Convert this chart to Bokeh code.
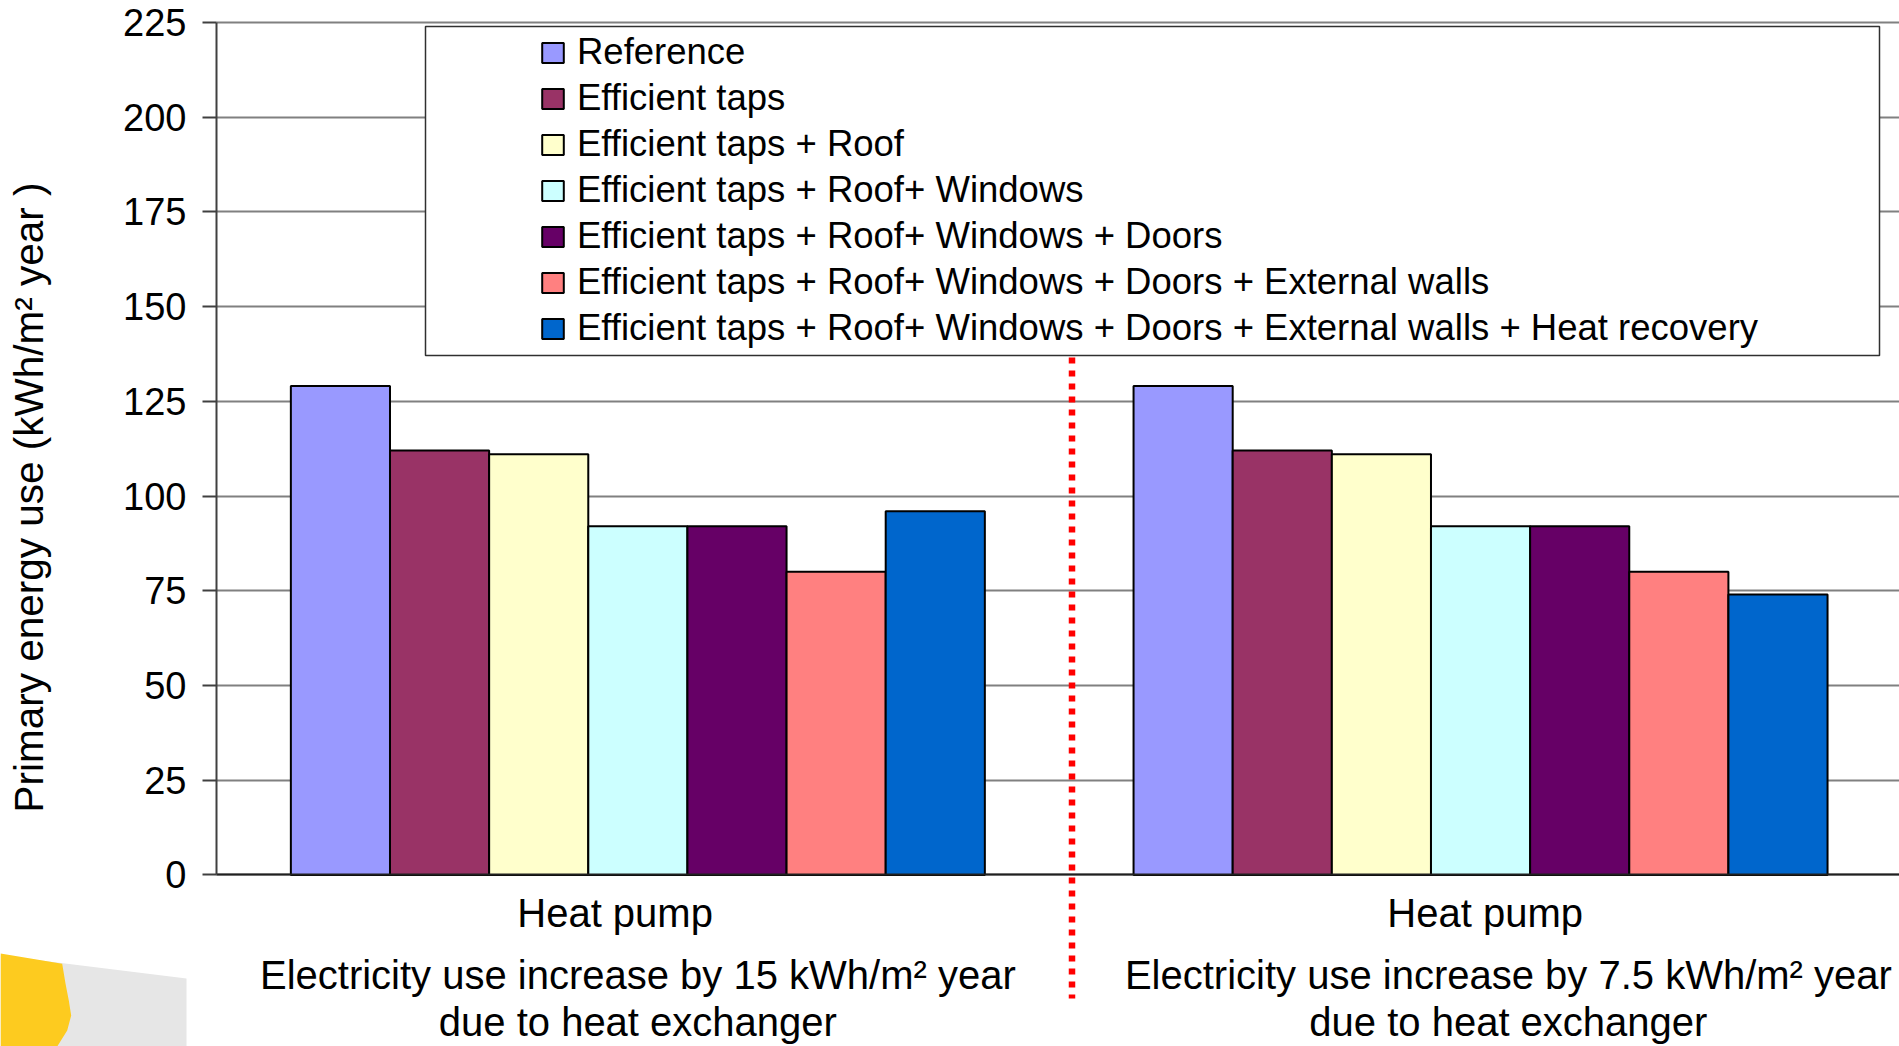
import math
from bokeh.plotting import figure
from bokeh.models import Range1d, FixedTicker, Legend, LegendItem, BoxAnnotation
from bokeh.core.properties import value
from bokeh.embed import file_html
from bokeh.resources import INLINE

# ---------------- data ----------------
categories = ["Heat pump", "Heat pump"]
notes_line1 = ["Electricity use increase by 15 kWh/m\u00b2 year",
               "Electricity use increase by 7.5 kWh/m\u00b2 year"]
notes_line2 = ["due to heat exchanger", "due to heat exchanger"]
series_names = [
    "Reference",
    "Efficient taps",
    "Efficient taps + Roof",
    "Efficient taps + Roof+ Windows",
    "Efficient taps + Roof+ Windows + Doors",
    "Efficient taps + Roof+ Windows + Doors + External walls",
    "Efficient taps + Roof+ Windows + Doors + External walls + Heat recovery",
]
reference = [129, 129]
efficient_taps = [112, 112]
taps_roof = [111, 111]
taps_roof_windows = [92, 92]
taps_roof_windows_doors = [92, 92]
taps_all_external_walls = [80, 80]
taps_all_heat_recovery = [96, 74]
series_values = [reference, efficient_taps, taps_roof, taps_roof_windows,
                 taps_roof_windows_doors, taps_all_external_walls, taps_all_heat_recovery]
colors = ["#9999FF", "#993366", "#FFFFCC", "#CCFFFF", "#660066", "#FF8080", "#0066CC"]
y_ticks = [0, 25, 50, 75, 100, 125, 150, 175, 200, 225]
y_label = "Primary energy use (kWh/m\u00b2 year )"

FONT = "Liberation Sans"

# ---------------- geometry of the canvas ----------------
W, H = 1899, 1046
AX_X, AX_Y = 216.0, 874.4          # pixel position of the axes origin
PX_PER_CAT = 842.7                 # pixels per category
PX_PER_UNIT = 3.789                # pixels per kWh/m2 year
x_end = (W - AX_X) / PX_PER_CAT
x_start = -AX_X / PX_PER_CAT
y_end = AX_Y / PX_PER_UNIT
y_start = -(H - AX_Y) / PX_PER_UNIT


def px(xp):
    return (xp - AX_X) / PX_PER_CAT


def py(yp):
    return (AX_Y - yp) / PX_PER_UNIT


p = figure(width=W, height=H, x_range=Range1d(x_start, x_end), y_range=Range1d(y_start, y_end),
           output_backend="svg", toolbar_location=None, title=None,
           min_border=0, min_border_left=0, min_border_right=0,
           min_border_top=0, min_border_bottom=0)
p.outline_line_color = None
p.background_fill_color = "white"
p.border_fill_color = "white"

# slide decoration (bottom-left corner)
p.patch(x=[px(0), px(186), px(186), px(0)], y=[py(955), py(978), py(1050), py(1050)],
        fill_color="#E6E6E6", line_alpha=0)
p.patch(x=[px(0), px(61.7), px(65), px(68.3), px(70.7), px(66.7), px(56.7), px(0)],
        y=[py(953), py(963.3), py(983), py(1000), py(1015), py(1030), py(1046), py(1050)],
        fill_color="#FDCB1F", line_alpha=0)

n = len(series_names)
bar_w = 1.0 / 8.5  # Excel gap width 150%
centers = [i + 0.5 for i in range(len(categories))]

renderers = []
for j, (name, vals, col) in enumerate(zip(series_names, series_values, colors)):
    xs = [c + (j - (n - 1) / 2) * bar_w for c in centers]
    r = p.vbar(x=xs, top=vals, width=bar_w, bottom=0, fill_color=col,
               line_color="black", line_width=2)
    renderers.append(r)

# axes (placed at the data origin)
p.yaxis.fixed_location = 0
p.yaxis.bounds = (0, 225)
p.yaxis.ticker = FixedTicker(ticks=y_ticks)
p.yaxis.major_tick_out = 14
p.yaxis.major_tick_in = 0
p.yaxis.minor_tick_line_color = None
p.yaxis.major_tick_line_color = "#404040"
p.yaxis.major_tick_line_width = 2
p.yaxis.axis_line_color = "#404040"
p.yaxis.axis_line_width = 2
p.yaxis.major_label_text_font = FONT
p.yaxis.major_label_text_font_size = "38px"
p.yaxis.major_label_text_color = "black"
p.yaxis.major_label_standoff = 16

p.xaxis.fixed_location = 0
p.xaxis.bounds = (0, x_end)
p.xaxis.ticker = FixedTicker(ticks=[])
p.xaxis.major_tick_out = 0
p.xaxis.major_tick_in = 0
p.xaxis.minor_tick_line_color = None
p.xaxis.axis_line_color = "#202020"
p.xaxis.axis_line_width = 2

p.xgrid.visible = False
p.ygrid.ticker = FixedTicker(ticks=y_ticks)
p.ygrid.grid_line_color = "#808080"
p.ygrid.grid_line_width = 2
p.ygrid.cross_bounds = (0, x_end)

# y-axis title (rotated text, placed like the original slide)
p.text(x=[px(28)], y=[py(497)], text=[y_label], angle=math.pi / 2,
       text_align="center", text_baseline="middle", text_font=value(FONT),
       text_font_size="40.5px", text_color="black")

# category labels under each group
cat_shift = [-0.027, 0.0055]
cat_x = [c + s for c, s in zip(centers, cat_shift)]
p.text(x=cat_x, y=[py(912.2)] * 2, text=categories, text_align="center",
       text_baseline="alphabetic", text_font=value(FONT), text_font_size="40px",
       text_color="black")

# notes under the categories
note_shift = [0.0, 0.033]
note_x = [c + s for c, s in zip(centers, note_shift)]
p.text(x=note_x, y=[py(974.8)] * 2, text=notes_line1, text_align="center",
       text_baseline="alphabetic", text_font=value(FONT), text_font_size="40px",
       text_color="black")
p.text(x=note_x, y=[py(1021.5)] * 2, text=notes_line2, text_align="center",
       text_baseline="alphabetic", text_font=value(FONT), text_font_size="40px",
       text_color="black")

# red dotted separator between the two cases
sep_x = px(1071.5)
p.segment(x0=[sep_x], y0=[py(357)], x1=[sep_x], y1=[py(998)],
          line_color="#FF0000", line_width=6.5, line_dash="6 7")

# legend box
p.add_layout(BoxAnnotation(left=px(425), right=px(1879), top=py(26), bottom=py(355),
                           fill_color="white", fill_alpha=1,
                           line_color="#303030", line_width=1.5, line_alpha=1))

items = [LegendItem(label=nm, renderers=[r]) for nm, r in zip(series_names, renderers)]
legend = Legend(items=items, location=(539, 697), padding=0, spacing=4,
                glyph_width=27, glyph_height=25, label_height=42, label_standoff=11,
                label_text_font=FONT, label_text_font_size="36.5px", label_text_color="black",
                border_line_alpha=0, background_fill_alpha=0, margin=0)
p.add_layout(legend)

open("out.html", "w").write(file_html(p, INLINE))
